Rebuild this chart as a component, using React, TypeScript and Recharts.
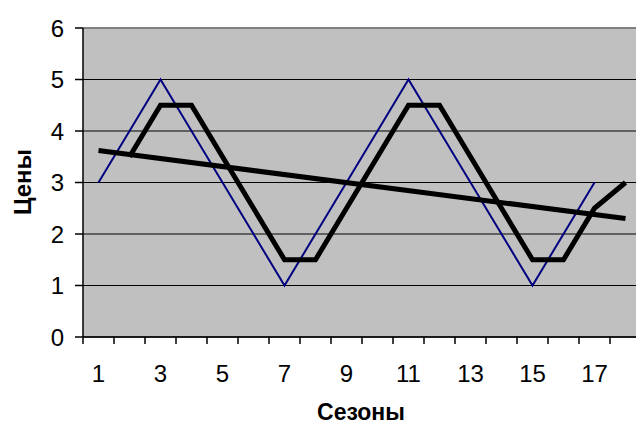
import React from 'react';
import { LineChart, Line, XAxis, YAxis, CartesianGrid, ReferenceLine } from 'recharts';

const seasons = [1, 2, 3, 4, 5, 6, 7, 8, 9, 10, 11, 12, 13, 14, 15, 16, 17, 18];
const prices: (number | null)[] = [3, 4, 5, 4, 3, 2, 1, 2, 3, 4, 5, 4, 3, 2, 1, 2, 3, null];
const movingAvg: (number | null)[] = [null, 3.5, 4.5, 4.5, 3.5, 2.5, 1.5, 1.5, 2.5, 3.5, 4.5, 4.5, 3.5, 2.5, 1.5, 1.5, 2.5, 3];
const trend: (number | null)[] = [3.62, null, null, null, null, null, null, null, null, null, null, null, null, null, null, null, null, 2.3];
const xTickLabels = [1, 3, 5, 7, 9, 11, 13, 15, 17];
const yTicks = [0, 1, 2, 3, 4, 5, 6];

const data = seasons.map((s, i) => ({ x: s, price: prices[i], ma: movingAvg[i], trend: trend[i] }));
const boundaries = [...seasons.map((s) => s - 0.5), seasons[seasons.length - 1] + 0.5];
const xTicks = [...boundaries, ...xTickLabels].sort((a, b) => a - b);

const FONT = '"Liberation Sans", Arial, sans-serif';

const XTick = (props: any) => {
  const { x, y, payload } = props;
  const v = payload.value;
  if (Number.isInteger(v)) {
    if (!xTickLabels.includes(v)) return <g />;
    return (
      <text x={x} y={y + 45} textAnchor="middle" fontFamily={FONT} fontSize={24} fill="#000">
        {v}
      </text>
    );
  }
  return <line x1={x} x2={x} y1={y} y2={y + 7} stroke="#000" strokeWidth={1.5} />;
};

export default function App() {
  return (
    <div style={{ position: 'absolute', left: 0, top: 0, width: 636, height: 426, overflow: 'hidden', background: '#fff' }}>
      <LineChart width={645} height={426} data={data} margin={{ top: 28, right: 4, bottom: 0, left: 0 }}>
        <CartesianGrid fill="#C0C0C0" vertical={false} stroke="#000" strokeOpacity={1} />
        <XAxis
          dataKey="x"
          type="number"
          domain={[0.5, 18.5]}
          ticks={xTicks}
          interval={0}
          tickLine={false}
          tickSize={0}
          tickMargin={0}
          tick={<XTick />}
          height={89}
          axisLine={{ stroke: '#000', strokeWidth: 1.5 }}
          label={{
            content: () => (
              <text x={361} y={420} textAnchor="middle" fontFamily={FONT} fontWeight="bold" fontSize={23} fill="#000">
                Сезоны
              </text>
            ),
          }}
        />
        <YAxis
          type="number"
          domain={[0, 6]}
          ticks={yTicks}
          interval={0}
          width={83}
          tickSize={8}
          tickMargin={11}
          tick={{ fontFamily: FONT, fontSize: 24, fill: '#000' }}
          tickLine={{ stroke: '#000', strokeWidth: 1.5 }}
          axisLine={{ stroke: '#000', strokeWidth: 1.5 }}
          label={{
            content: () => (
              <text
                x={31}
                y={182}
                textAnchor="middle"
                transform="rotate(-90 31 182)"
                fontFamily={FONT}
                fontWeight="bold"
                fontSize={24}
                fill="#000"
              >
                Цены
              </text>
            ),
          }}
        />
        <ReferenceLine y={6} stroke="#808080" strokeWidth={2} />
        <Line dataKey="price" stroke="#000080" strokeWidth={2} dot={false} isAnimationActive={false} />
        <Line dataKey="ma" stroke="#000" strokeWidth={5} dot={false} isAnimationActive={false} />
        <Line dataKey="trend" stroke="#000" strokeWidth={5} dot={false} connectNulls isAnimationActive={false} />
      </LineChart>
    </div>
  );
}
